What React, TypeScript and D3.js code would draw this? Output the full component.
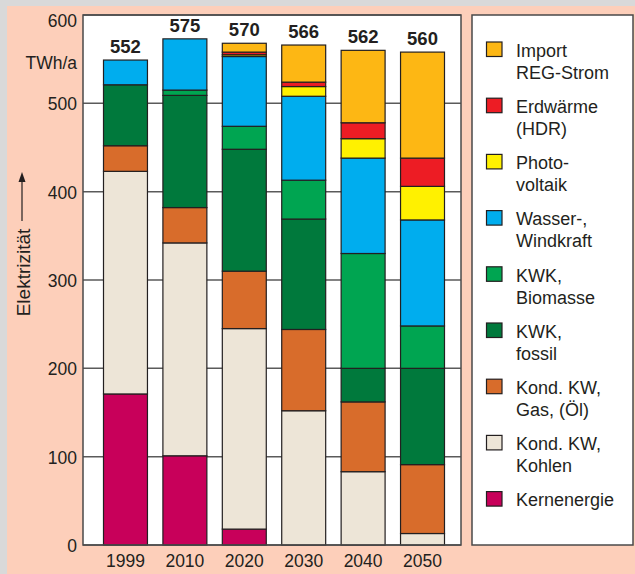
import React from "react";
import * as d3 from "d3";

const years = ["1999", "2010", "2020", "2030", "2040", "2050"];
const totals = [552, 575, 570, 566, 562, 560];

const kernenergie = [171, 101, 18, 0, 0, 0];
const kohle = [252, 241, 227, 152, 83, 13];
const gas = [29, 40, 65, 92, 79, 78];
const kwkFossil = [69, 127, 138, 125, 38, 109];
const kwkBio = [0, 6, 26, 44, 130, 48];
const wasserWind = [28, 58, 79, 95, 108, 120];
const photovoltaik = [0, 0, 2, 11, 22, 38];
const erdwaerme = [0, 0, 3, 5, 18, 32];
const importReg = [0, 0, 10, 42, 82, 120];

const yTicks = [0, 100, 200, 300, 400, 500, 600];

const seriesDefs = [
  { key: "kern", values: kernenergie, color: "#c8005a", label: ["Kernenergie"] },
  { key: "kohle", values: kohle, color: "#ede5d7", label: ["Kond. KW,", "Kohlen"] },
  { key: "gas", values: gas, color: "#d86c2b", label: ["Kond. KW,", "Gas, (Öl)"] },
  { key: "fossil", values: kwkFossil, color: "#00793c", label: ["KWK,", "fossil"] },
  { key: "bio", values: kwkBio, color: "#00a551", label: ["KWK,", "Biomasse"] },
  { key: "wasser", values: wasserWind, color: "#00adee", label: ["Wasser-,", "Windkraft"] },
  { key: "pv", values: photovoltaik, color: "#fff100", label: ["Photo-", "voltaik"] },
  { key: "hdr", values: erdwaerme, color: "#ed1c24", label: ["Erdwärme", "(HDR)"] },
  { key: "import", values: importReg, color: "#fdb714", label: ["Import", "REG-Strom"] },
];

const W = 635;
const H = 574;
const FONT = "'Liberation Sans', Arial, Helvetica, sans-serif";
const TXT = "#231f20";

export default function App() {
  const plot = { left: 83, right: 461, top: 15, bottom: 545 };
  const y = d3.scaleLinear().domain([0, 600]).range([plot.bottom, plot.top]);
  const x = d3
    .scaleBand<string>()
    .domain(years)
    .range([103.5, 444.5])
    .paddingInner(0.26)
    .paddingOuter(0);

  const table = years.map((yr, i) => {
    const row: Record<string, number | string> = { year: yr };
    seriesDefs.forEach((s) => (row[s.key] = s.values[i]));
    return row;
  });
  const stacked = d3.stack<any>().keys(seriesDefs.map((s) => s.key))(table);

  const legendItems = [...seriesDefs].reverse();
  const legendTop = 42;
  const legendStep = 56.2;

  return (
    <svg
      width={W}
      height={H}
      style={{ position: "absolute", left: 0, top: 0 }}
      fontFamily={FONT}
    >
      <rect x={0} y={0} width={W} height={H} fill="#d9d9d9" />
      <rect x={7} y={6} width={W - 7} height={H - 6} fill="#fdcfba" />

      {/* plot area */}
      <rect
        x={plot.left}
        y={plot.top}
        width={plot.right - plot.left}
        height={plot.bottom - plot.top}
        fill="#ffffff"
      />
      {yTicks.map((t) => (
        <line
          key={"g" + t}
          x1={plot.left}
          x2={plot.right}
          y1={y(t)}
          y2={y(t)}
          stroke="#5a5a5a"
          strokeWidth={1.5}
        />
      ))}

      {stacked.map((layer, li) => (
        <g key={layer.key} fill={seriesDefs[li].color}>
          {layer.map((d, i) =>
            d[1] - d[0] > 0 ? (
              <rect
                key={i}
                x={x(years[i])}
                y={y(d[1])}
                width={x.bandwidth()}
                height={y(d[0]) - y(d[1])}
                stroke="#231f20"
                strokeWidth={1.2}
              />
            ) : null
          )}
        </g>
      ))}

      <rect
        x={plot.left}
        y={plot.top}
        width={plot.right - plot.left}
        height={plot.bottom - plot.top}
        fill="none"
        stroke="#4a4a4a"
        strokeWidth={1.5}
      />

      {/* totals */}
      {years.map((yr, i) => {
        const top = d3.sum(seriesDefs, (s) => s.values[i]);
        return (
          <text
            key={"t" + yr}
            x={(x(yr) as number) + x.bandwidth() / 2}
            y={y(top) - 7}
            textAnchor="middle"
            fontSize={18.5}
            fontWeight="bold"
            fill={TXT}
          >
            {totals[i]}
          </text>
        );
      })}

      {/* y tick labels */}
      {yTicks.map((t) => (
        <text
          key={"yl" + t}
          x={77}
          y={Math.max(y(t) + 7, 27)}
          textAnchor="end"
          fontSize={17.5}
          fill={TXT}
        >
          {t}
        </text>
      ))}
      <text x={77} y={69} textAnchor="end" fontSize={17.5} fill={TXT}>
        TWh/a
      </text>

      {/* y axis title with arrow */}
      <text
        transform="translate(30,272.5) rotate(-90)"
        textAnchor="middle"
        fontSize={19}
        fill={TXT}
      >
        Elektrizität
      </text>
      <line x1={22} x2={22} y1={221} y2={180} stroke={TXT} strokeWidth={1.2} />
      <path d="M22,172 L18.5,182 L25.5,182 Z" fill={TXT} />

      {/* x labels */}
      {years.map((yr) => (
        <text
          key={"x" + yr}
          x={(x(yr) as number) + x.bandwidth() / 2}
          y={567}
          textAnchor="middle"
          fontSize={17.5}
          fill={TXT}
        >
          {yr}
        </text>
      ))}

      {/* legend */}
      <rect
        x={472}
        y={15}
        width={161}
        height={530}
        fill="#ffffff"
        stroke="#4a4a4a"
        strokeWidth={1.5}
      />
      {legendItems.map((s, i) => {
        const top = legendTop + i * legendStep;
        return (
          <g key={"lg" + s.key}>
            <rect
              x={486.5}
              y={top}
              width={15.5}
              height={14.5}
              fill={s.color}
              stroke="#231f20"
              strokeWidth={1.2}
            />
            {s.label.map((ln, j) => (
              <text
                key={j}
                x={516}
                y={top + 14.7 + j * 22}
                fontSize={18}
                fill={TXT}
              >
                {ln}
              </text>
            ))}
          </g>
        );
      })}
    </svg>
  );
}
